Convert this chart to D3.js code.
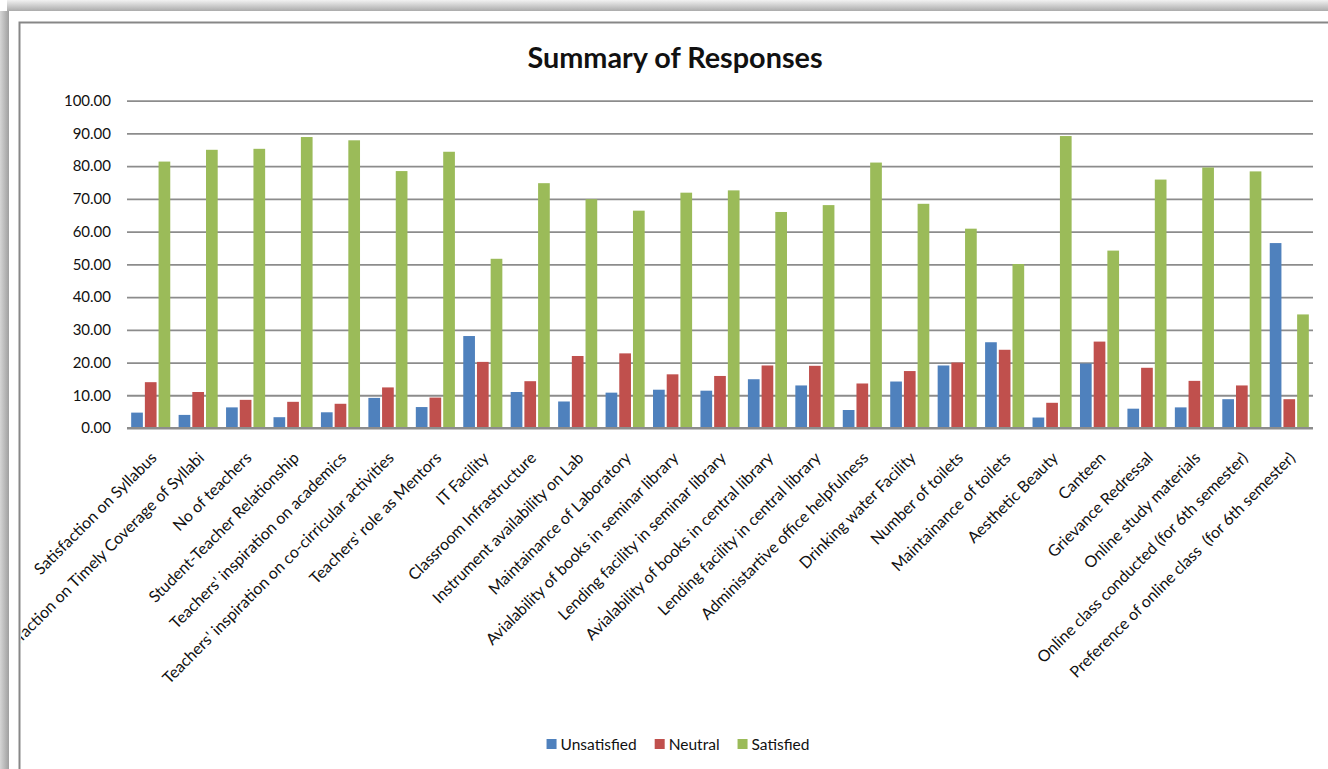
<!DOCTYPE html>
<html>
<head>
<meta charset="utf-8">
<script src="https://cdn.jsdelivr.net/npm/d3@7"></script>
<style>
  html, body { margin: 0; padding: 0; background: #fff; }
  svg { display: block; }
  text { font-family: Lato, "Open Sans", sans-serif; }
</style>
</head>
<body>
<svg id="chart" width="1328" height="769"></svg>
<script>
// Survey categories (x axis)
const categories = [
  "Satisfaction on Syllabus",
  "Satisfaction on Timely Coverage of Syllabi",
  "No of teachers",
  "Student-Teacher Relationship",
  "Teachers' inspiration on academics",
  "Teachers' inspiration on co-cirricular activities",
  "Teachers' role as Mentors",
  "IT Facility",
  "Classroom Infrastructure",
  "Instrument availability on Lab",
  "Maintainance of Laboratory",
  "Avialability of books in seminar library",
  "Lending facility in seminar library",
  "Avialability of books in central library",
  "Lending facility in central library",
  "Administartive office helpfulness",
  "Drinking water Facility",
  "Number of toilets",
  "Maintainance of toilets",
  "Aesthetic Beauty",
  "Canteen",
  "Grievance Redressal",
  "Online study materials",
  "Online class conducted (for 6th semester)",
  "Preference of online class  (for 6th semester)"
];

// Percentage of responses per category
const unsatisfied = [4.7, 4.0, 6.3, 3.3, 4.8, 9.2, 6.4, 28.1, 11.0, 8.1, 10.8, 11.7, 11.4,
                     14.9, 13.0, 5.5, 14.2, 19.1, 26.2, 3.2, 19.7, 5.9, 6.3, 8.8, 56.5];
const neutral     = [14.0, 11.0, 8.6, 8.0, 7.4, 12.4, 9.3, 20.2, 14.3, 22.0, 22.8, 16.4, 15.9,
                     19.1, 19.0, 13.6, 17.4, 20.0, 23.9, 7.7, 26.4, 18.4, 14.4, 13.0, 8.8];
const satisfied   = [81.4, 85.0, 85.3, 88.9, 87.9, 78.5, 84.4, 51.7, 74.8, 69.9, 66.4, 71.9, 72.6,
                     66.0, 68.1, 81.1, 68.5, 60.9, 50.1, 89.2, 54.2, 75.9, 79.6, 78.4, 34.7];

const seriesNames  = ["Unsatisfied", "Neutral", "Satisfied"];
const seriesValues = [unsatisfied, neutral, satisfied];
const seriesColors = ["#4F81BD", "#C0504D", "#9BBB59"];

const yTicks = [0, 10, 20, 30, 40, 50, 60, 70, 80, 90, 100];
const chartTitle = "Summary of Responses";

const svg = d3.select("#chart");
const W = 1328, H = 769;

// Drop shadow around the chart picture
const defs = svg.append("defs");
const gTop = defs.append("linearGradient").attr("id", "shadowTop")
  .attr("x1", 0).attr("y1", 0).attr("x2", 0).attr("y2", 1);
gTop.append("stop").attr("offset", "0%").attr("stop-color", "#f2f2f2");
gTop.append("stop").attr("offset", "100%").attr("stop-color", "#ababab");
const gLeft = defs.append("linearGradient").attr("id", "shadowLeft")
  .attr("x1", 0).attr("y1", 0).attr("x2", 1).attr("y2", 0);
gLeft.append("stop").attr("offset", "0%").attr("stop-color", "#d6d6d6");
gLeft.append("stop").attr("offset", "100%").attr("stop-color", "#9f9f9f");

svg.append("rect").attr("x", 7).attr("y", 0).attr("width", W - 7).attr("height", 11)
  .attr("fill", "url(#shadowTop)");
svg.append("rect").attr("x", 0).attr("y", 11).attr("width", 9).attr("height", H - 11)
  .attr("fill", "url(#shadowLeft)");

// Chart area border
svg.append("rect").attr("x", 19.5).attr("y", 22.5).attr("width", W + 20).attr("height", H + 20)
  .attr("fill", "#fff").attr("stroke", "#878787").attr("stroke-width", 2);

defs.append("clipPath").attr("id", "chartClip")
  .append("rect").attr("x", 21).attr("y", 24).attr("width", W).attr("height", H);

const chart = svg.append("g").attr("clip-path", "url(#chartClip)");

// Scales
const plotLeft = 127, plotRight = 1313;
const x0 = d3.scaleBand().domain(categories).range([plotLeft, plotRight]).padding(0);
const x1 = d3.scaleBand().domain(seriesNames).range([0, x0.bandwidth()])
  .paddingInner(0.146).paddingOuter(0.305);
const y = d3.scaleLinear().domain([0, 100]).range([428, 100.7]);

// Title
chart.append("text")
  .attr("x", 675).attr("y", 68)
  .attr("text-anchor", "middle")
  .attr("font-size", 28.8).attr("font-weight", 700).attr("fill", "#111")
  .text(chartTitle);

// Y axis with gridlines
const yAxis = chart.append("g")
  .attr("transform", `translate(${plotLeft},0)`)
  .call(d3.axisLeft(y).tickValues(yTicks).tickFormat(d3.format(".2f"))
    .tickSizeInner(-(plotRight - plotLeft)).tickSizeOuter(0).tickPadding(16));
yAxis.select(".domain").remove();
yAxis.selectAll(".tick line").attr("stroke", "#8c8c8c").attr("stroke-width", 1.8);
yAxis.selectAll(".tick text")
  .attr("font-family", "Lato, sans-serif").attr("font-size", 15).attr("fill", "#111");

// Bars
const groups = chart.append("g").selectAll("g")
  .data(categories)
  .join("g")
  .attr("transform", d => `translate(${x0(d)},0)`);

groups.selectAll("rect")
  .data((d, i) => seriesNames.map((s, k) => ({ s, k, v: seriesValues[k][i] })))
  .join("rect")
  .attr("x", d => x1(d.s))
  .attr("width", x1.bandwidth())
  .attr("y", d => y(d.v))
  .attr("height", d => y(0) - y(d.v))
  .attr("fill", d => seriesColors[d.k]);

// Category axis baseline
chart.append("line")
  .attr("x1", plotLeft).attr("x2", plotRight)
  .attr("y1", y(0)).attr("y2", y(0))
  .attr("stroke", "#8c8c8c").attr("stroke-width", 1.8);

// Rotated category labels
chart.append("g").selectAll("text")
  .data(categories)
  .join("text")
  .attr("transform", d => `translate(${x0(d) + x0.bandwidth() / 2 + 3},455) rotate(-45)`)
  .attr("text-anchor", "end")
  .attr("dy", "0.35em")
  .attr("font-size", 16).attr("fill", "#111")
  .style("white-space", "pre")
  .text(d => d);

// Legend
const legend = chart.append("g");
let lx = 0;
seriesNames.forEach((name, k) => {
  const item = legend.append("g").attr("transform", `translate(${lx},0)`);
  item.append("rect").attr("x", 0).attr("y", 739).attr("width", 10).attr("height", 10)
    .attr("fill", seriesColors[k]);
  const t = item.append("text").attr("x", 14).attr("y", 749.5)
    .attr("font-size", 15.5).attr("fill", "#111").text(name);
  lx += 14 + t.node().getComputedTextLength() + 18;
});
const legendWidth = lx - 18;
legend.attr("transform", `translate(${678 - legendWidth / 2},0)`);
</script>
</body>
</html>
